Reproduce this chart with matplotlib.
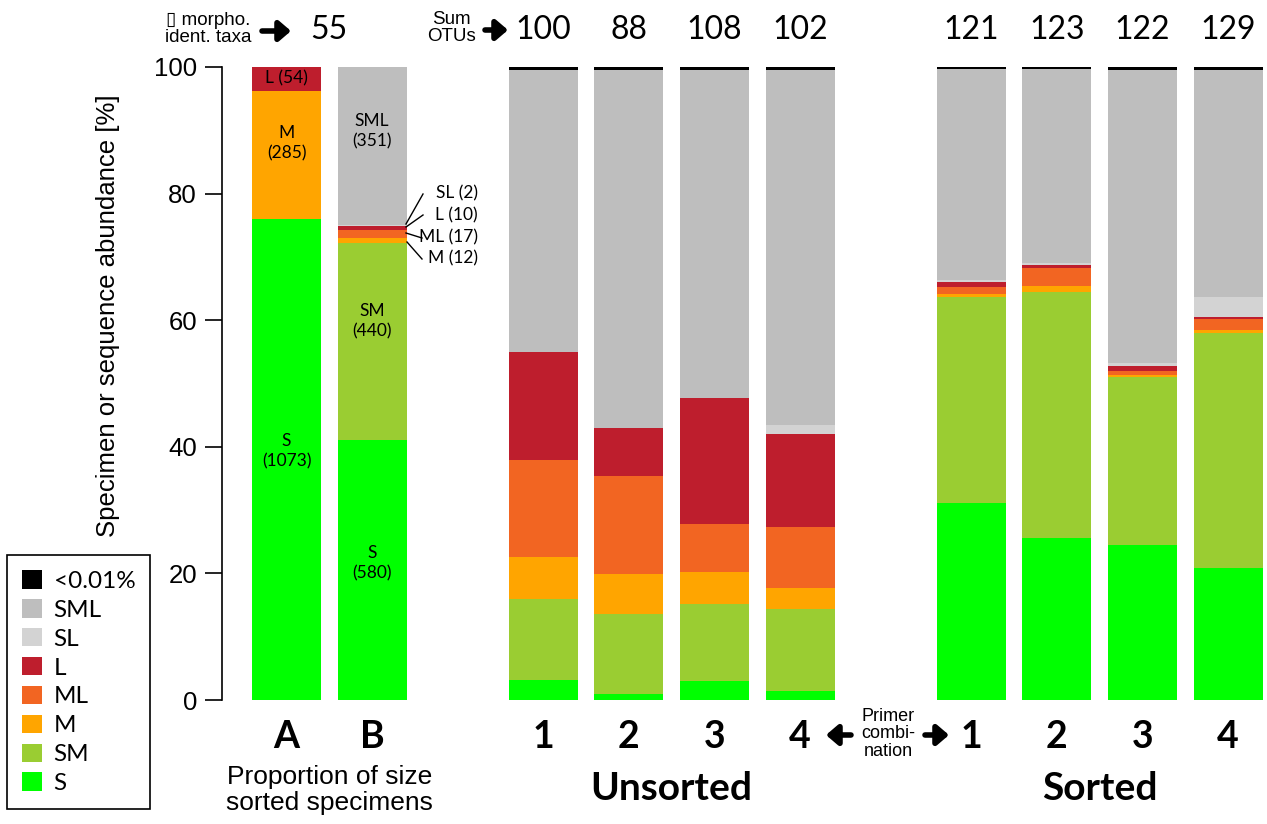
import matplotlib
matplotlib.use("Agg")
import matplotlib.pyplot as plt
from matplotlib.patches import Patch
from matplotlib.lines import Line2D
import numpy as np

# ---------------- data ----------------
bar_labels = ["A", "B", "1", "2", "3", "4", "1", "2", "3", "4"]
bar_pos = [0, 1, 3, 4, 5, 6, 8, 9, 10, 11]
top_counts = ["100", "88", "108", "102", "121", "123", "122", "129"]

categories = ["S", "SM", "M", "ML", "L", "SL", "SML", "<0.01%"]
colors = ["#00FF00", "#9ACD32", "#FFA500", "#F26522", "#BE1E2D", "#D3D3D3", "#BEBEBE", "#000000"]

S_vals   = [76.0, 41.1, 3.2, 1.0, 3.0, 1.4, 31.1, 25.6, 24.5, 20.9]
SM_vals  = [0.0, 31.1, 12.8, 12.6, 12.2, 13.0, 32.5, 38.9, 26.5, 37.0]
M_vals   = [20.2, 0.85, 6.6, 6.3, 5.0, 3.3, 0.5, 0.9, 0.3, 0.6]
ML_vals  = [0.0, 1.2, 15.3, 15.5, 7.6, 9.6, 1.1, 2.8, 0.7, 1.7]
L_vals   = [3.8, 0.7, 17.1, 7.6, 19.9, 14.7, 0.8, 0.5, 0.8, 0.3]
SL_vals  = [0.0, 0.15, 0.0, 0.0, 0.0, 1.4, 0.35, 0.3, 0.4, 3.2]
SML_vals = [0.0, 24.9, 44.6, 56.6, 51.8, 56.1, 33.3, 30.65, 46.3, 35.8]
BLK_vals = [0.0, 0.0, 0.4, 0.4, 0.5, 0.5, 0.35, 0.35, 0.5, 0.5]

series = [S_vals, SM_vals, M_vals, ML_vals, L_vals, SL_vals, SML_vals, BLK_vals]

W, H = 1267, 824
fig = plt.figure(figsize=(W / 100, H / 100), dpi=100)
ax = fig.add_axes([222 / W, 1 - 700 / H, (1264 - 222) / W, 633 / H])

LS = "Liberation Sans"
MY = "Lato"

bottom = np.zeros(len(bar_pos))
for vals, col in zip(series, colors):
    v = np.array(vals)
    ax.bar(bar_pos, v, bottom=bottom, width=0.806, color=col, linewidth=0)
    bottom += v

ax.set_xlim(-0.754, 11.42)
ax.set_ylim(0, 100)
for s in ["top", "right", "bottom"]:
    ax.spines[s].set_visible(False)
ax.spines["left"].set_bounds(0, 100)
ax.spines["left"].set_linewidth(1.2)
ax.set_xticks([])
ax.set_yticks([0, 20, 40, 60, 80, 100])
ax.tick_params(axis="y", direction="out", length=12, width=1.2, pad=6)
for lab in ax.get_yticklabels():
    lab.set_fontfamily(LS)
    lab.set_fontsize(18.5)
ax.set_ylabel("Specimen or sequence abundance [%]", fontfamily=LS, fontsize=18.5)
ax.yaxis.set_label_coords(-0.098, 0.607)

def fx(px):
    return px / W

def fy(py):
    return 1 - py / H

# bottom labels
for p, lab in zip(bar_pos, bar_labels):
    ax.text(p, (700 - 737) / 6.33, lab, ha="center", va="center", fontsize=27,
            fontweight="bold", fontfamily=MY)
ax.text(4.5, (700 - 788) / 6.33, "Unsorted", ha="center", va="center", fontsize=28,
        fontweight="bold", fontfamily=MY)
ax.text(9.5, (700 - 788) / 6.33, "Sorted", ha="center", va="center", fontsize=28,
        fontweight="bold", fontfamily=MY)
ax.text(0.5, (700 - 790) / 6.33, "Proportion of size\nsorted specimens", ha="center",
        va="center", fontsize=19, fontfamily=LS, linespacing=1.1)

# top numbers
ax.text(0.5, (700 - 30) / 6.33, "55", ha="center", va="center", fontsize=23, fontfamily=MY)
for p, t in zip(bar_pos[2:], top_counts):
    ax.text(p, (700 - 30) / 6.33, t, ha="center", va="center", fontsize=23, fontfamily=MY)

fig.text(fx(208), fy(29), "\u25AF morpho.\nident. taxa", ha="center", va="center",
         fontsize=13.5, fontfamily=[LS, "DejaVu Sans"], linespacing=1.0)
fig.text(fx(476), fy(28), "Sum\nOTUs", ha="right", va="center", fontsize=13.5,
         fontfamily=LS, linespacing=1.0, multialignment="center")
fig.text(fx(888), fy(734), "Primer\ncombi-\nnation", ha="center", va="center",
         fontsize=13, fontfamily=LS, linespacing=1.05)

def arrow(x0, x1, py):
    fig.add_artist(matplotlib.patches.FancyArrowPatch(
        (fx(x0), fy(py)), (fx(x1), fy(py)), transform=fig.transFigure,
        arrowstyle="-|>,head_length=7,head_width=6", lw=4, color="black",
        mutation_scale=1, shrinkA=0, shrinkB=0))

arrow(262, 291, 31)
arrow(485, 508, 30)
arrow(851, 826, 735)
arrow(925, 949, 735)

# labels inside bars
def v(py):
    return (700 - py) / 6.33

inbar = [(0, v(78), "L (54)"), (0, v(143), "M\n(285)"), (0, v(451), "S\n(1073)"),
         (1, v(131.5), "SML\n(351)"), (1, v(321), "SM\n(440)"), (1, v(563.5), "S\n(580)")]
for x, y, t in inbar:
    ax.text(x, y, t, ha="center", va="center", fontsize=12.5, fontfamily=MY, linespacing=1.3)

# B side annotations
side = [("SL (2)", 193, (406, 224), (423, 194)),
        ("L (10)", 215, (406, 227), (423, 215)),
        ("ML (17)", 237, (406, 233), (422, 238)),
        ("M (12)", 258, (407, 242), (422, 259))]
for t, py, p0, p1 in side:
    fig.text(fx(478), fy(py), t, ha="right", va="center", fontsize=12.5, fontfamily=MY)
    fig.add_artist(Line2D([fx(p0[0]), fx(p1[0])], [fy(p0[1]), fy(p1[1])],
                          transform=fig.transFigure, color="black", lw=1))

# legend
handles = [Patch(facecolor=c, edgecolor="none", label=l)
           for l, c in zip(categories[::-1], colors[::-1])]
leg = fig.legend(handles=handles, loc="upper left", bbox_to_anchor=(fx(7), fy(555)),
                 frameon=True, fancybox=False, edgecolor="black", framealpha=1,
                 prop={"family": MY, "size": 17.5}, handlelength=0.8, handleheight=0.8,
                 handletextpad=0.5, labelspacing=0.295, borderpad=0.62, borderaxespad=0)
leg.get_frame().set_linewidth(1.2)

fig.savefig("out.png", dpi=100)
